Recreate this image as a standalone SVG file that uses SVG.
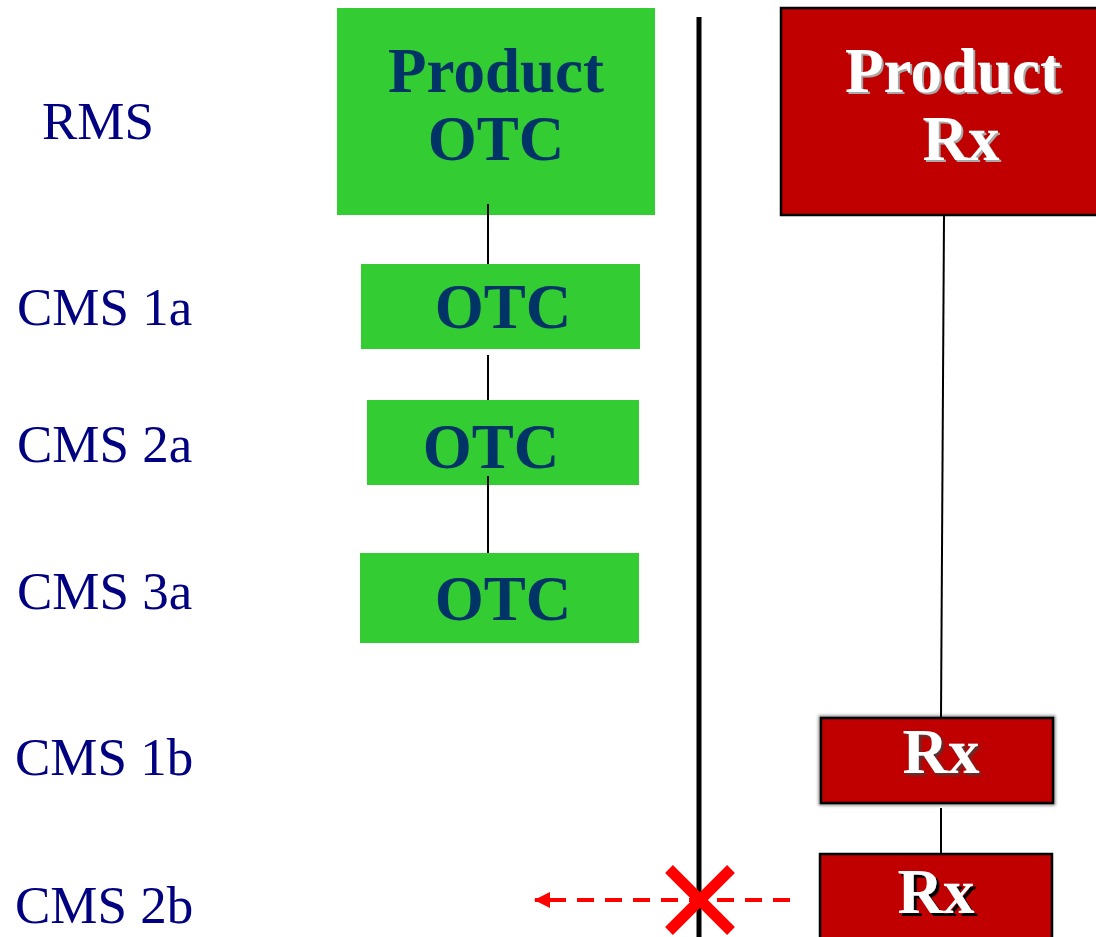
<svg xmlns="http://www.w3.org/2000/svg" width="1096" height="937" viewBox="0 0 1096 937">
  <style>
    .lbl { font-family: "Liberation Serif", "Times New Roman", serif; font-size: 53px; fill: #000080; }
    .big { font-family: "Liberation Serif", "Times New Roman", serif; font-size: 63px; font-weight: bold; text-anchor: middle; }
    .otc { fill: #003366; }
    .green { fill: #33CC33; }
    .red { fill: #C00000; stroke: #000; stroke-width: 2.5; }
    .wt { fill: #FFFFFF; }
    .conn { stroke: #000; stroke-width: 2; fill: none; }
  </style>
  <defs>
    <filter id="blur" x="-20%" y="-20%" width="140%" height="140%">
      <feGaussianBlur stdDeviation="1.5"/>
    </filter>
    <filter id="shGray" x="-10%" y="-10%" width="130%" height="130%">
      <feDropShadow dx="2" dy="2" stdDeviation="0.3" flood-color="#A8A8A8" flood-opacity="1"/>
    </filter>
    <filter id="shSoft" x="-10%" y="-10%" width="130%" height="130%">
      <feDropShadow dx="2" dy="2" stdDeviation="1.5" flood-color="#404040" flood-opacity="1"/>
    </filter>
    <filter id="shBlack" x="-10%" y="-10%" width="130%" height="130%">
      <feDropShadow dx="3" dy="3" stdDeviation="0.3" flood-color="#000000" flood-opacity="1"/>
    </filter>
    <marker id="arr" viewBox="0 0 16 16" refX="15" refY="8" markerWidth="16" markerHeight="16" markerUnits="userSpaceOnUse" orient="auto">
      <path d="M0,0 L16,8 L0,16 Z" fill="#FF0000"/>
    </marker>
  </defs>
  <rect x="0" y="0" width="1096" height="937" fill="#FFFFFF"/>

  <g id="labels">
    <text class="lbl" x="42" y="139">RMS</text>
    <text class="lbl" x="17" y="325">CMS 1a</text>
    <text class="lbl" x="17" y="462">CMS 2a</text>
    <text class="lbl" x="17" y="609">CMS 3a</text>
    <text class="lbl" x="15" y="775">CMS 1b</text>
    <text class="lbl" x="15" y="923">CMS 2b</text>
  </g>

  <g id="node-product-otc">
    <rect class="green" x="337" y="8" width="318" height="207"/>
    <text class="big otc" x="496" y="92">Product</text>
    <text class="big otc" x="496" y="160">OTC</text>
  </g>
  <g id="node-otc-1a">
    <rect class="green" x="361" y="264" width="279" height="85"/>
    <text class="big otc" x="503" y="328">OTC</text>
  </g>
  <g id="node-otc-2a">
    <rect class="green" x="367" y="400" width="272" height="85"/>
    <text class="big otc" x="491" y="468">OTC</text>
  </g>
  <g id="node-otc-3a">
    <rect class="green" x="360" y="553" width="279" height="90"/>
    <text class="big otc" x="503" y="620">OTC</text>
  </g>

  <g id="node-product-rx">
    <rect class="red" x="781" y="8" width="330" height="207"/>
    <text class="big wt" x="953" y="92" filter="url(#shGray)">Product</text>
    <text class="big wt" x="961" y="160" filter="url(#shGray)">Rx</text>
  </g>
  <g id="node-rx-1b">
    <rect x="821" y="718" width="232" height="85" fill="none" stroke="#888" stroke-width="5" filter="url(#blur)"/>
    <rect class="red" x="821" y="718" width="232" height="85"/>
    <text class="big wt" x="941" y="773" filter="url(#shSoft)">Rx</text>
  </g>
  <g id="node-rx-2b">
    <rect class="red" x="820" y="854" width="232" height="100"/>
    <text class="big wt" x="936" y="913" filter="url(#shBlack)">Rx</text>
  </g>

  <g id="connectors">
    <line class="conn" x1="488" y1="204" x2="488" y2="264"/>
    <line class="conn" x1="488" y1="355" x2="488" y2="400"/>
    <line class="conn" x1="488" y1="476" x2="488" y2="553"/>
    <line class="conn" x1="944" y1="216" x2="941" y2="718"/>
    <line class="conn" x1="941" y1="808" x2="941" y2="854"/>
    <line x1="699" y1="17" x2="699" y2="937" stroke="#000" stroke-width="5"/>
    <line x1="790" y1="900" x2="535" y2="900" stroke="#FF0000" stroke-width="4" stroke-dasharray="17,11" marker-end="url(#arr)"/>
    <g stroke="#FF0000" stroke-width="11">
      <line x1="669" y1="869" x2="731" y2="931"/>
      <line x1="731" y1="869" x2="669" y2="931"/>
    </g>
  </g>
</svg>
